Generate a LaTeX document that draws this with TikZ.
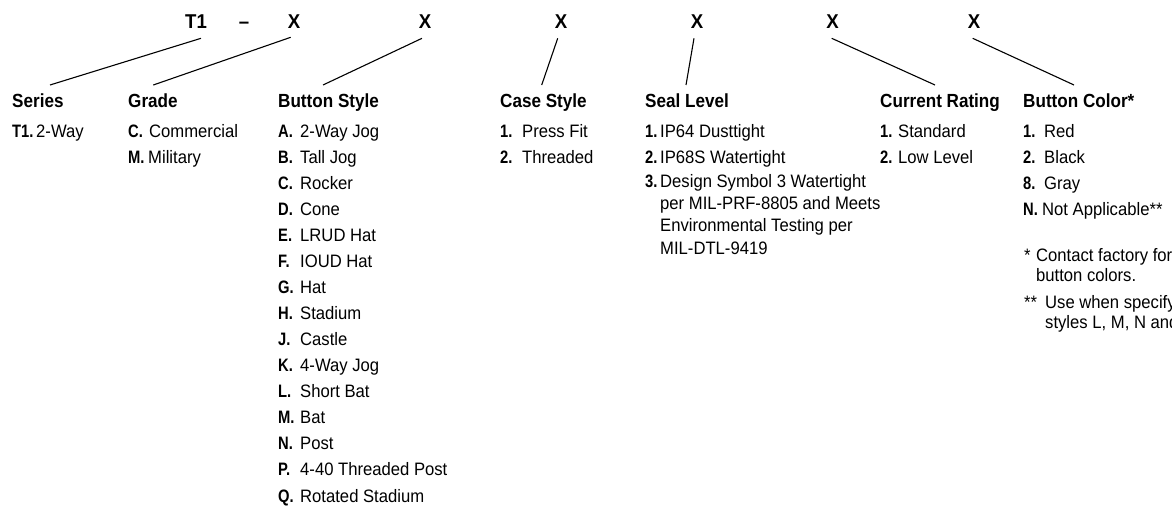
\documentclass[tikz,border=0pt]{standalone}
\usepackage{fontspec}
\usetikzlibrary{calc}
\setmainfont{Liberation Sans}[FakeStretch=0.925]
\newfontfamily\headfont{Liberation Sans}[FakeStretch=0.9]
\newfontfamily\labfont{Liberation Sans}[FakeStretch=0.82]
\newfontfamily\topfont{Liberation Sans}[FakeStretch=0.93]
\newcommand\itemlab[2]{\makebox[#1pt][l]{\labfont\bfseries #2}}
\tikzset{
  toplab/.style={font={\topfont\bfseries\fontsize{20}{22}\selectfont}, anchor=base, inner sep=0pt},
  headlab/.style={font={\headfont\bfseries\fontsize{19}{22}\selectfont}, anchor=base west, inner sep=0pt},
  itemtxt/.style={font={\fontsize{18}{20}\selectfont}, anchor=base west, inner sep=0pt},
  link/.style={line width=1.1pt, black}
}
\begin{document}
\begin{tikzpicture}[x=1pt,y=-1pt]
\useasboundingbox (0,0) rectangle (1172,506);
% top code row
\node[toplab] (t1) at (196,28.3) {T1};
\node[toplab] (dash) at (244,28.3) {–};
\node[toplab] (x1) at (294,28.3) {X};
\node[toplab] (x2) at (425,28.3) {X};
\node[toplab] (x3) at (561,28.3) {X};
\node[toplab] (x4) at (697,28.3) {X};
\node[toplab] (x5) at (832.5,28.3) {X};
\node[toplab] (x6) at (974,28.3) {X};
% headings
\node[headlab] (series) at (12,107.8) {Series};
\node[headlab] (grade) at (128,107.8) {Grade};
\node[headlab] (bstyle) at (278,107.8) {Button Style};
\node[headlab] (case) at (500,107.8) {Case Style};
\node[headlab] (seal) at (645,107.8) {Seal Level};
\node[headlab] (current) at (880,107.8) {Current Rating};
\node[headlab] (color) at (1023,107.8) {Button Color*};
% connectors
\draw[link] ($(t1.base)+(5,10)$) -- ($(series.base west)+(38,-22.8)$);
\draw[link] ($(x1.base)+(-3.3,9)$) -- ($(grade.base west)+(25.3,-22.8)$);
\draw[link] ($(x2.base)+(-3,10)$) -- ($(bstyle.base west)+(45,-22.8)$);
\draw[link] ($(x3.base)+(-3.3,10)$) -- ($(case.base west)+(41.7,-22.8)$);
\draw[link] ($(x4.base)+(-3,10)$) -- ($(seal.base west)+(41,-22.8)$);
\draw[link] ($(x5.base)+(-0.8,10)$) -- ($(current.base west)+(55,-22.8)$);
\draw[link] ($(x6.base)+(-1.3,10)$) -- ($(color.base west)+(51,-22.8)$);
% Series
\node[itemtxt] (ser1) at (12,137.3) {\itemlab{24}{T1.}2-Way};
% Grade
\node[itemtxt] (gr1) at (128,137.3) {\itemlab{21}{C.}Commercial};
\node[itemtxt] (gr2) at (128,163.35) {\itemlab{20}{M.}Military};
% Button style
\foreach \l/\t [count=\i from 0] in {A/2-Way Jog, B/Tall Jog, C/Rocker, D/Cone, E/LRUD Hat, F/IOUD Hat, G/Hat, H/Stadium, J/Castle, K/4-Way Jog, L/Short Bat, M/Bat, N/Post, P/4-40 Threaded Post, Q/Rotated Stadium}
  \node[itemtxt] (bs\i) at (278,{137.3+26.05*\i}) {\itemlab{22}{\l.}\t};
% Case style
\node[itemtxt] (cs1) at (500,137.3) {\itemlab{22}{1.}Press Fit};
\node[itemtxt] (cs2) at (500,163.35) {\itemlab{22}{2.}Threaded};
% Seal level
\node[itemtxt] (sl1) at (645,137.3) {\itemlab{15}{1.}IP64 Dusttight};
\node[itemtxt] (sl2) at (645,163.35) {\itemlab{15}{2.}IP68S Watertight};
\node[itemtxt] (sl3) at (645,187.3) {\itemlab{15}{3.}Design Symbol 3 Watertight};
\node[itemtxt] (sl3b) at (660,209.6) {per MIL-PRF-8805 and Meets};
\node[itemtxt] (sl3c) at (660,231.9) {Environmental Testing per};
\node[itemtxt] (sl3d) at (660,254.2) {MIL-DTL-9419};
% Current rating
\node[itemtxt] (cr1) at (880,137.3) {\itemlab{18}{1.}Standard};
\node[itemtxt] (cr2) at (880,163.35) {\itemlab{18}{2.}Low Level};
% Button color
\node[itemtxt] (bc1) at (1023,137.3) {\itemlab{21}{1.}Red};
\node[itemtxt] (bc2) at (1023,163.35) {\itemlab{21}{2.}Black};
\node[itemtxt] (bc3) at (1023,189.4) {\itemlab{21}{8.}Gray};
\node[itemtxt] (bc4) at (1023,215.45) {\itemlab{19}{N.}Not Applicable**};
% footnotes
\node[itemtxt] (fn1) at (1024,261.7) {\makebox[12pt][l]{*}Contact factory for};
\node[itemtxt] (fn1b) at (1036,281.7) {button colors.};
\node[itemtxt] (fn2) at (1024,308) {\makebox[21pt][l]{**}Use when specify};
\node[itemtxt] (fn2b) at (1045,328) {styles L, M, N and};
\end{tikzpicture}
\end{document}
